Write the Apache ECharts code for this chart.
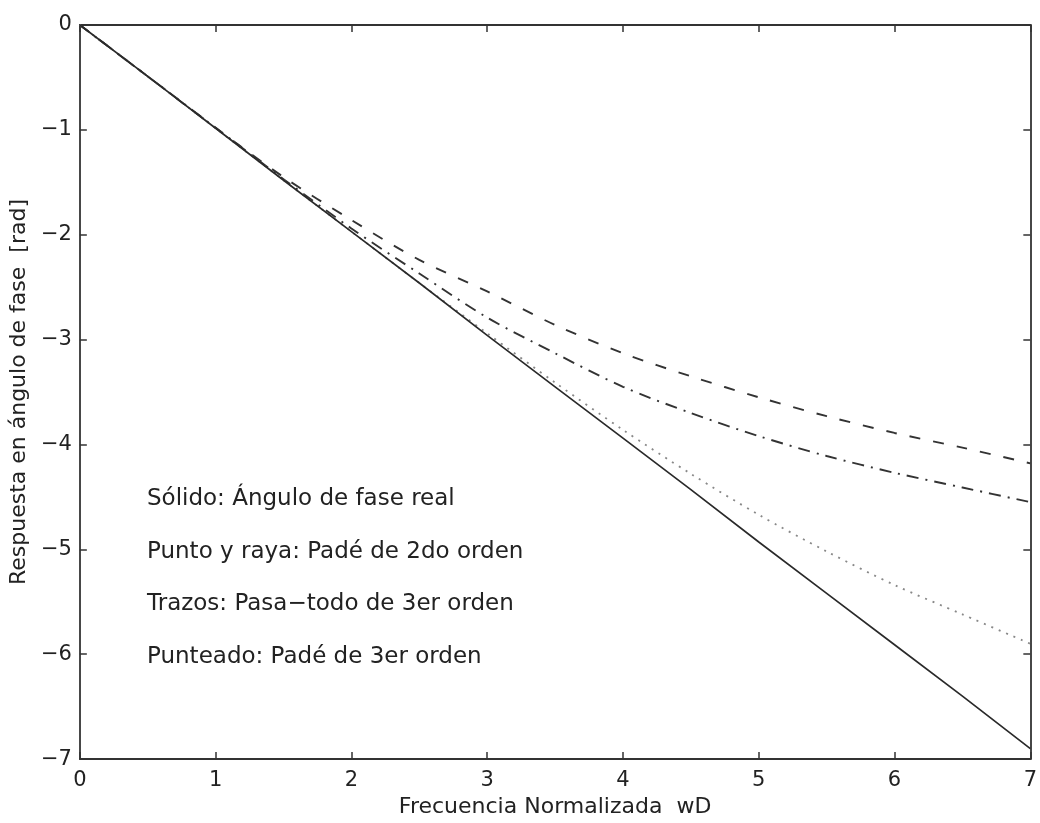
<!DOCTYPE html>
<html>
<head>
<meta charset="utf-8">
<script src="https://cdn.jsdelivr.net/npm/echarts@6/dist/echarts.min.js"></script>
<style>
  html, body { margin: 0; padding: 0; background: #fff; }
  #chart { width: 1040px; height: 823px; }
</style>
</head>
<body>
<div id="chart"></div>
<script>
// Normalized frequency wD
const xs = [0, 0.5, 1, 1.5, 2, 2.5, 3, 3.5, 4, 4.5, 5, 5.5, 6, 6.5, 7];
// Solid: real phase angle
const solido = [0, -0.49, -0.985, -1.48, -1.97, -2.46, -2.96, -3.45, -3.94, -4.43, -4.93, -5.42, -5.91, -6.40, -6.90];
// Dash-dot: 2nd order Padé
const puntoRaya = [0, -0.49, -0.98, -1.47, -1.94, -2.37, -2.79, -3.13, -3.45, -3.70, -3.92, -4.11, -4.27, -4.41, -4.55];
// Dashed: 3rd order all-pass
const trazos = [0, -0.49, -0.98, -1.45, -1.86, -2.24, -2.54, -2.86, -3.13, -3.35, -3.55, -3.73, -3.89, -4.03, -4.18];
// Dotted: 3rd order Padé
const punteado = [0, -0.49, -0.985, -1.48, -1.97, -2.46, -2.94, -3.41, -3.86, -4.28, -4.67, -5.02, -5.34, -5.62, -5.90];

const xTickLabels = ['0', '1', '2', '3', '4', '5', '6', '7'];
const yTickLabels = { '-7': '−7', '-6': '−6', '-5': '−5', '-4': '−4', '-3': '−3', '-2': '−2', '-1': '−1', '0': '0' };

const annotations = [
  'Sólido: Ángulo de fase real',
  'Punto y raya: Padé de 2do orden',
  'Trazos: Pasa−todo de 3er orden',
  'Punteado: Padé de 3er orden'
];

const xTitle = 'Frecuencia Normalizada  wD';
const yTitle = 'Respuesta en ángulo de fase  [rad]';

const FONT = 'DejaVu Sans';
const AX = '#333';

function pairs(ys) { return xs.map((x, i) => [x, ys[i]]); }

const chart = echarts.init(document.getElementById('chart'), null, { renderer: 'canvas' });

const axisCommon = {
  type: 'value',
  splitLine: { show: false },
  axisLine: { show: true, onZero: false, lineStyle: { color: AX, width: 1.8 } },
  axisTick: { show: true, inside: true, length: 7, lineStyle: { color: AX, width: 1.5 } }
};

const option = {
  backgroundColor: '#fff',
  animation: false,
  grid: { left: 79, right: 8, top: 25, bottom: 60, containLabel: false },
  xAxis: [
    Object.assign({}, axisCommon, {
      position: 'bottom', min: 0, max: 7, interval: 1,
      name: xTitle, nameLocation: 'middle', nameGap: 31,
      nameTextStyle: { fontFamily: FONT, fontSize: 22, color: '#222' },
      axisLabel: { show: true, margin: 11, fontFamily: FONT, fontSize: 21, color: '#222',
        formatter: v => xTickLabels[Math.round(v)] }
    }),
    Object.assign({}, axisCommon, {
      position: 'top', min: 0, max: 7, interval: 1,
      axisLabel: { show: false }
    })
  ],
  yAxis: [
    Object.assign({}, axisCommon, {
      position: 'left', min: -7, max: 0, interval: 1,
      name: yTitle, nameLocation: 'middle', nameGap: 35, nameRotate: 90,
      nameTextStyle: { fontFamily: FONT, fontSize: 22, color: '#222' },
      axisLabel: { show: true, margin: 8, fontFamily: FONT, fontSize: 21, color: '#222',
        formatter: v => yTickLabels[String(Math.round(v))] }
    }),
    Object.assign({}, axisCommon, {
      position: 'right', min: -7, max: 0, interval: 1,
      axisLabel: { show: false }
    })
  ],
  series: [
    {
      name: 'Sólido', type: 'line', data: pairs(solido), showSymbol: false, smooth: false,
      lineStyle: { color: '#2a2a2a', width: 1.7, type: 'solid' }, z: 5
    },
    {
      name: 'Punto y raya', type: 'line', data: pairs(puntoRaya), showSymbol: false, smooth: 0.3,
      lineStyle: { color: '#333', width: 1.9, type: [12, 7, 2, 7] }
    },
    {
      name: 'Trazos', type: 'line', data: pairs(trazos), showSymbol: false, smooth: 0.3,
      lineStyle: { color: '#333', width: 1.9, type: [11, 13] }
    },
    {
      name: 'Punteado', type: 'line', data: pairs(punteado), showSymbol: false, smooth: 0.3,
      lineStyle: { color: '#888', width: 1.8, type: [2, 6] }
    }
  ],
  graphic: annotations.map((t, i) => ({
    type: 'text',
    left: 147,
    top: 488 + i * 52.5,
    style: { text: t, font: '23px "' + FONT + '"', fill: '#222' }
  }))
};

chart.setOption(option);
</script>
</body>
</html>
